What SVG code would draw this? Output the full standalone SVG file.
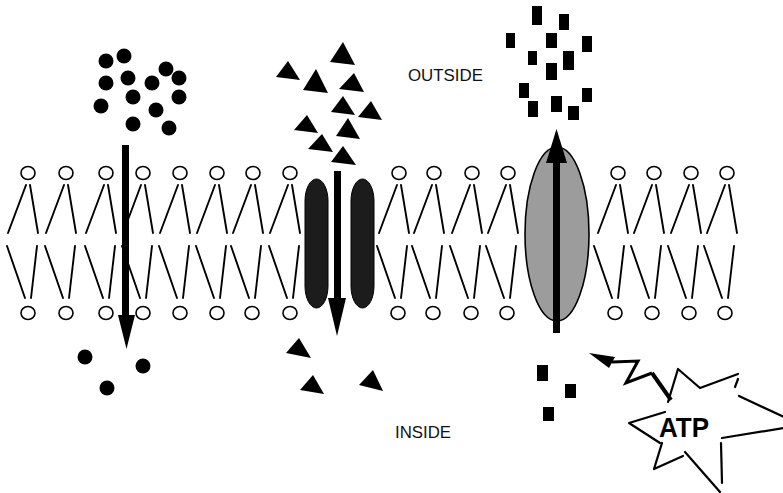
<svg xmlns="http://www.w3.org/2000/svg" xmlns:xlink="http://www.w3.org/1999/xlink" width="783" height="493" viewBox="0 0 783 493">
  <style>
    .head { fill: #fff; stroke: #000; stroke-width: 1.6; }
    .tail { stroke: #000; stroke-width: 1.9; stroke-linecap: round; fill: none; }
    .ink { fill: #000; }
    .shaft { fill: #000; }
    .pillar { fill: #1c1c1c; stroke: #000; stroke-width: 1; }
    .carrier { fill: #9c9c9c; stroke: #000; stroke-width: 1.6; }
    .burst { stroke: #000; stroke-width: 2.2; fill: none; stroke-linecap: round; stroke-linejoin: round; }
    .label { font-family: "Liberation Sans", Arial, sans-serif; font-size: 16.5px; fill: #111; }
    .atp { font-family: "Liberation Sans", Arial, sans-serif; font-size: 28px; font-weight: bold; fill: #000; }
  </style>
  <defs>
    <!-- phospholipid of the outer leaflet: head on top, two tails hanging down -->
    <g id="lipidTop">
      <ellipse class="head" cx="0" cy="0" rx="7" ry="6.5"/>
      <line class="tail" x1="-2" y1="12" x2="-20" y2="60"/>
      <line class="tail" x1="2" y1="12" x2="10" y2="60"/>
    </g>
    <!-- phospholipid of the inner leaflet: head at the bottom, tails pointing up -->
    <g id="lipidBottom">
      <ellipse class="head" cx="0" cy="0" rx="7" ry="6.5"/>
      <line class="tail" x1="-21" y1="-67" x2="-3" y2="-15"/>
      <line class="tail" x1="9" y1="-67" x2="3" y2="-15"/>
    </g>
  </defs>

  <!-- lipid bilayer -->
  <g id="bilayer">
    <g id="outer-leaflet">
      <use xlink:href="#lipidTop" x="28" y="173"/>
      <use xlink:href="#lipidTop" x="66" y="173"/>
      <use xlink:href="#lipidTop" x="106" y="173"/>
      <use xlink:href="#lipidTop" x="143" y="173"/>
      <use xlink:href="#lipidTop" x="180" y="173"/>
      <use xlink:href="#lipidTop" x="217" y="173"/>
      <use xlink:href="#lipidTop" x="253" y="173"/>
      <use xlink:href="#lipidTop" x="290" y="173"/>
      <use xlink:href="#lipidTop" x="399" y="173"/>
      <use xlink:href="#lipidTop" x="434" y="173"/>
      <use xlink:href="#lipidTop" x="472" y="173"/>
      <use xlink:href="#lipidTop" x="508" y="173"/>
      <use xlink:href="#lipidTop" x="618" y="173"/>
      <use xlink:href="#lipidTop" x="654" y="173"/>
      <use xlink:href="#lipidTop" x="691" y="173"/>
      <use xlink:href="#lipidTop" x="727" y="173"/>
    </g>
    <g id="inner-leaflet">
      <use xlink:href="#lipidBottom" x="28" y="313"/>
      <use xlink:href="#lipidBottom" x="66" y="313"/>
      <use xlink:href="#lipidBottom" x="106" y="313"/>
      <use xlink:href="#lipidBottom" x="143" y="313"/>
      <use xlink:href="#lipidBottom" x="180" y="313"/>
      <use xlink:href="#lipidBottom" x="217" y="313"/>
      <use xlink:href="#lipidBottom" x="252" y="313"/>
      <use xlink:href="#lipidBottom" x="290" y="313"/>
      <use xlink:href="#lipidBottom" x="398" y="313"/>
      <use xlink:href="#lipidBottom" x="433" y="313"/>
      <use xlink:href="#lipidBottom" x="471" y="313"/>
      <use xlink:href="#lipidBottom" x="507" y="313"/>
      <use xlink:href="#lipidBottom" x="615" y="313"/>
      <use xlink:href="#lipidBottom" x="652" y="313"/>
      <use xlink:href="#lipidBottom" x="689" y="313"/>
      <use xlink:href="#lipidBottom" x="725" y="313"/>
    </g>
  </g>

  <!-- channel protein: two pillars -->
  <g id="channel">
    <rect class="pillar" x="305" y="179" width="23" height="129" rx="11.5" ry="22"/>
    <rect class="pillar" x="351" y="179" width="23" height="129" rx="11.5" ry="22"/>
  </g>

  <!-- carrier protein (active transport) -->
  <g id="carrier">
    <ellipse class="carrier" cx="557" cy="234" rx="32" ry="87"/>
  </g>

  <!-- solute: round particles -->
  <g id="circles" class="ink">
    <circle cx="106" cy="61" r="7.5"/>
    <circle cx="124" cy="56" r="7.5"/>
    <circle cx="106" cy="83" r="7.5"/>
    <circle cx="128" cy="78" r="7.5"/>
    <circle cx="152" cy="83" r="7.5"/>
    <circle cx="166" cy="69" r="7.5"/>
    <circle cx="179" cy="78" r="7.5"/>
    <circle cx="133" cy="97" r="7.5"/>
    <circle cx="179" cy="97" r="7.5"/>
    <circle cx="101" cy="106" r="7.5"/>
    <circle cx="156" cy="110" r="7.5"/>
    <circle cx="133" cy="124" r="7.5"/>
    <circle cx="169" cy="128" r="7.5"/>
    <circle cx="85" cy="357" r="7.5"/>
    <circle cx="143" cy="366" r="7.5"/>
    <circle cx="107" cy="388" r="7.5"/>
  </g>

  <!-- solute: triangular particles -->
  <g id="triangles" class="ink">
    <polygon points="343,42 330,62 355,65"/>
    <polygon points="288,61 276,77 300,80"/>
    <polygon points="316,69 303,90 328,93"/>
    <polygon points="354,73 339,89 364,92"/>
    <polygon points="343,96 331,112 355,115"/>
    <polygon points="371,101 358,117 382,120"/>
    <polygon points="307,115 294,130 318,133"/>
    <polygon points="348,118 336,136 360,139"/>
    <polygon points="322,134 308,149 333,152"/>
    <polygon points="343,146 331,162 356,165"/>
    <polygon points="299,338 286,353 311,358"/>
    <polygon points="313,375 300,390 324,394"/>
    <polygon points="373,370 359,385 383,391"/>
  </g>

  <!-- solute: rectangular particles -->
  <g id="rectangles" class="ink">
    <rect x="532" y="6" width="10" height="19"/>
    <rect x="559" y="14" width="10" height="16"/>
    <rect x="506" y="33" width="9" height="15"/>
    <rect x="546" y="33" width="11" height="15"/>
    <rect x="582" y="36" width="10" height="16"/>
    <rect x="528" y="51" width="9" height="14"/>
    <rect x="563" y="51" width="11" height="19"/>
    <rect x="546" y="63" width="11" height="17"/>
    <rect x="519" y="83" width="10" height="15"/>
    <rect x="582" y="88" width="10" height="14"/>
    <rect x="528" y="101" width="10" height="16"/>
    <rect x="551" y="96" width="11" height="16"/>
    <rect x="568" y="106" width="11" height="14"/>
    <rect x="537" y="365" width="11" height="16"/>
    <rect x="565" y="384" width="11" height="14"/>
    <rect x="543" y="407" width="11" height="14"/>
  </g>

  <!-- transport arrows -->
  <g id="connectors">
    <g id="arrow-diffusion">
      <rect class="shaft" x="122" y="145" width="7" height="172"/>
      <polygon class="ink" points="118,315 135,315 126.5,349"/>
    </g>
    <g id="arrow-channel">
      <rect class="shaft" x="334" y="171" width="7" height="129"/>
      <polygon class="ink" points="328,298 346,298 337,336"/>
    </g>
    <g id="arrow-pump">
      <rect class="shaft" x="553" y="161" width="7" height="172"/>
      <polygon class="ink" points="556.5,129 546,163 567,163"/>
    </g>
    <g id="arrow-energy">
      <polyline points="612,362 638,361 626,383 652,373" fill="none" stroke="#000" stroke-width="3" stroke-linejoin="miter"/>
      <line x1="652" y1="373" x2="671" y2="400" stroke="#000" stroke-width="4"/>
      <polygon class="ink" points="589,353 615,357 609,368"/>
    </g>
  </g>

  <!-- ATP energy burst -->
  <g id="atp">
    <g class="burst">
      <polyline points="668,402 678,369 700,388 738,374"/>
      <line x1="738" y1="379" x2="735" y2="387"/>
      <line x1="739" y1="396" x2="784" y2="417"/>
      <line x1="784" y1="428" x2="722" y2="438"/>
      <line x1="721" y1="443" x2="722" y2="483"/>
      <line x1="685" y1="452" x2="720" y2="492"/>
      <polyline points="683,456 654,469 662,443"/>
      <polyline points="665,412 629,423 660,443"/>
    </g>
    <text class="atp" x="659" y="437" textLength="50" lengthAdjust="spacingAndGlyphs">ATP</text>
  </g>

  <!-- compartment labels -->
  <g id="labels">
    <text class="label" x="408" y="81" textLength="75" lengthAdjust="spacingAndGlyphs">OUTSIDE</text>
    <text class="label" x="395" y="438" textLength="56" lengthAdjust="spacingAndGlyphs">INSIDE</text>
  </g>
</svg>
